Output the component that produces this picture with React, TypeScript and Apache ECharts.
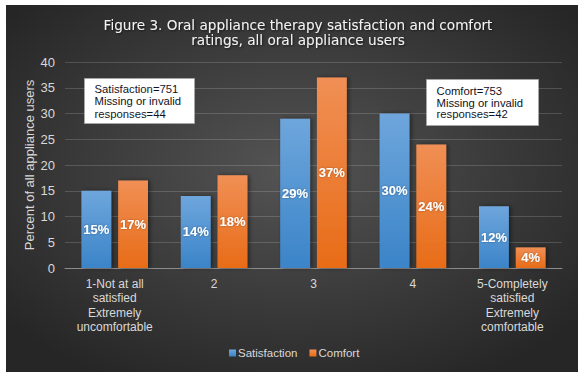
import React, { useEffect, useRef } from "react";
import * as echarts from "echarts";

const categories = [
  "1-Not at all\nsatisfied\nExtremely\nuncomfortable",
  "2",
  "3",
  "4",
  "5-Completely\nsatisfied\nExtremely\ncomfortable",
];
const satisfaction = [15, 14, 29, 30, 12];
const comfort = [17, 18, 37, 24, 4];
const yTicks = { min: 0, max: 40, interval: 5 };
const titleText = "Figure 3. Oral appliance therapy satisfaction and comfort\nratings, all oral appliance users";
const noteSatisfaction = "Satisfaction=751\nMissing or invalid\nresponses=44";
const noteComfort = "Comfort=753\nMissing or invalid\nresponses=42";

export default function App() {
  const ref = useRef<HTMLDivElement>(null);
  useEffect(() => {
    if (!ref.current) return;
    const chart = echarts.init(ref.current, null, { renderer: "svg" });
    const font = "Liberation Sans, Arial, sans-serif";
    const blueGrad = new echarts.graphic.LinearGradient(0, 0, 0, 1, [
      { offset: 0, color: "#6ea6dc" },
      { offset: 1, color: "#3b84c8" },
    ]);
    const orangeGrad = new echarts.graphic.LinearGradient(0, 0, 0, 1, [
      { offset: 0, color: "#f08f55" },
      { offset: 1, color: "#e86c17" },
    ]);
    const labelCfg = {
      show: true,
      position: "inside",
      color: "#ffffff",
      fontWeight: "bold",
      fontSize: 13,
      fontFamily: font,
      formatter: "{c}%",
      textShadowColor: "rgba(0,0,0,0.35)",
      textShadowBlur: 2,
    };
    chart.setOption({
      animation: false,
      backgroundColor: "#ffffff",
      graphic: [
        {
          type: "rect",
          z: -10,
          silent: true,
          shape: { x: 6, y: 5, width: 572, height: 367 },
          style: {
            fill: new echarts.graphic.RadialGradient(0.5, 0.45, 0.65, [
              { offset: 0, color: "#545454" },
              { offset: 1, color: "#262626" },
            ]),
          },
        },
        {
          type: "group",
          left: 84,
          top: 78,
          children: [
            {
              type: "rect",
              shape: { x: 0, y: 0, width: 110, height: 45 },
              style: { fill: "#ffffff", stroke: "#a6a6a6", lineWidth: 1 },
            },
            {
              type: "text",
              x: 10,
              y: 4,
              style: {
                text: noteSatisfaction,
                fill: "#111122",
                font: "11.3px " + font,
                lineHeight: 12.5,
              },
            },
          ],
        },
        {
          type: "group",
          left: 426,
          top: 79,
          children: [
            {
              type: "rect",
              shape: { x: 0, y: 0, width: 112, height: 46 },
              style: { fill: "#ffffff", stroke: "#a6a6a6", lineWidth: 1 },
            },
            {
              type: "text",
              x: 10,
              y: 6,
              style: {
                text: noteComfort,
                fill: "#111122",
                font: "11.3px " + font,
                lineHeight: 11.5,
              },
            },
          ],
        },
      ],
      title: {
        text: titleText,
        left: 293,
        textAlign: "center",
        top: 12,
        textStyle: {
          color: "#f2f2f2",
          fontSize: 13.6,
          fontWeight: "normal",
          fontFamily: "DejaVu Sans, sans-serif",
          lineHeight: 15.5,
          textShadowColor: "rgba(0,0,0,0.6)",
          textShadowBlur: 2,
          textShadowOffsetX: 1,
          textShadowOffsetY: 1,
        },
      },
      legend: {
        data: ["Satisfaction", "Comfort"],
        left: 224,
        top: 342,
        itemWidth: 7,
        itemHeight: 7,
        itemGap: 12,
        icon: "rect",
        textStyle: { color: "#d9d9d9", fontSize: 11.5, fontFamily: font, padding: [0, 0, 0, -3] },
      },
      grid: { left: 65, right: 24, top: 62, bottom: 109, containLabel: false },
      xAxis: {
        type: "category",
        data: categories,
        axisLine: { lineStyle: { color: "#8c8c8c", width: 1 } },
        axisTick: { show: false },
        axisLabel: {
          color: "#d9d9d9",
          fontSize: 12,
          fontFamily: font,
          lineHeight: 14.3,
          margin: 9,
          interval: 0,
        },
      },
      yAxis: {
        type: "value",
        min: yTicks.min,
        max: yTicks.max,
        interval: yTicks.interval,
        name: "Percent of all appliance users",
        nameLocation: "middle",
        nameGap: 29,
        nameMoveOverlap: false,
        nameTextStyle: { color: "#d9d9d9", fontSize: 13, fontFamily: font },
        axisLine: { show: false },
        axisTick: { show: false },
        axisLabel: { color: "#d9d9d9", fontSize: 13, fontFamily: font, margin: 10 },
        splitLine: { lineStyle: { color: "rgba(255,255,255,0.16)", width: 1 } },
      },
      series: [
        {
          name: "Satisfaction",
          type: "bar",
          data: satisfaction,
          barGap: "23%",
          barCategoryGap: "33%",
          itemStyle: {
            color: blueGrad,
            shadowColor: "rgba(0,0,0,0.45)",
            shadowBlur: 4,
            shadowOffsetX: 2,
            shadowOffsetY: 0,
          },
          label: labelCfg,
        },
        {
          name: "Comfort",
          type: "bar",
          data: comfort,
          itemStyle: {
            color: orangeGrad,
            shadowColor: "rgba(0,0,0,0.45)",
            shadowBlur: 4,
            shadowOffsetX: 2,
            shadowOffsetY: 0,
          },
          label: labelCfg,
        },
      ],
    });
    return () => chart.dispose();
  }, []);
  return (
    <div
      ref={ref}
      style={{ position: "fixed", left: 0, top: 0, width: 586, height: 377 }}
    />
  );
}
